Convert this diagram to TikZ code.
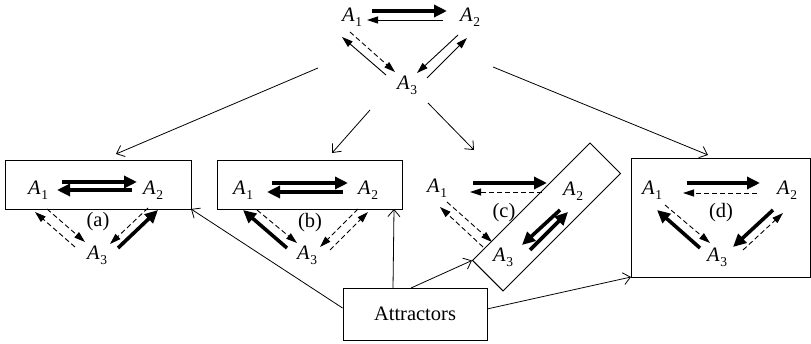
\documentclass[tikz,border=0pt]{standalone}
\usepackage{fontspec}
\setmainfont{Liberation Serif}
\usetikzlibrary{arrows.meta}
\newcommand\Asub[1]{\textit{A}\kern0.5pt\raisebox{-5pt}{\fontsize{13.5}{14}\selectfont #1}}
\begin{document}
\begin{tikzpicture}[x=1pt,y=-1pt,
  every node/.style={font=\fontsize{20.5}{24}\selectfont, inner sep=0pt},
  lbl/.style={anchor=base west},
  thinarr/.style={line width=0.9pt,-{Triangle[length=11pt,width=7pt]}},
  dasharr/.style={thinarr,dash pattern=on 5pt off 3pt},
  thickarr/.style={line width=3.6pt,-{Triangle[length=13pt,width=12pt]}},
  conn/.style={line width=0.8pt,-{Straight Barb[length=7pt,width=12pt]}},
  box/.style={draw,line width=0.9pt}]
\useasboundingbox (0,0) rectangle (811,344);
% top graph
\node[lbl] (t1) at (342,22) {\Asub{1}};
\node[lbl] (t2) at (460,22) {\Asub{2}};
\node[lbl] (t3) at (397,90) {\Asub{3}};
\draw[thickarr] (372,11) -- (447,11);
\draw[thinarr] (443,20) -- (367,20);
\draw[thinarr] (386,75) -- (342,37);
\draw[dasharr] (350,32) -- (395,72);
\draw[thinarr] (458,35) -- (417,73);
\draw[thinarr] (427,78) -- (467,38);
% boxes
\draw[box] (5,160) rectangle (191,209);
\draw[box] (217,160) rectangle (402,209);
\draw[box] (631,158) rectangle (810,277);
\node[box,rotate=45,minimum width=166pt,minimum height=43pt] (cbox) at (546.5,217) {};
\node[box,minimum width=144pt,minimum height=52pt] (att) at (415,314) {Attractors};
% box a
\node[lbl] (a1) at (28,195) {\Asub{1}};
\node[lbl] (a2) at (143,195) {\Asub{2}};
\node[lbl] (a3) at (87,260) {\Asub{3}};
\node (la) at (98,222) {(a)};
\draw[thickarr] (62,182) -- (137,182);
\draw[thickarr] (132,190) -- (57,190);
\draw[dasharr] (75,247) -- (35,212);
\draw[dasharr] (47,209) -- (85,242);
\draw[dasharr] (148,208) -- (110,244);
\draw[thickarr] (118,248) -- (158,210);
% box b
\node[lbl] (b1) at (233,195) {\Asub{1}};
\node[lbl] (b2) at (358,195) {\Asub{2}};
\node[lbl] (b3) at (297,260) {\Asub{3}};
\node (lb) at (310,223) {(b)};
\draw[thickarr] (272,183) -- (348,183);
\draw[thickarr] (343,192) -- (267,192);
\draw[thickarr] (287,248) -- (243,210);
\draw[dasharr] (257,210) -- (297,243);
\draw[dasharr] (358,209) -- (320,247);
\draw[dasharr] (330,250) -- (368,212);
% box c
\node[lbl] (c1) at (427,193) {\Asub{1}};
\node[lbl] (c2) at (563,196) {\Asub{2}};
\node[lbl] (c3) at (493,262) {\Asub{3}};
\node (lc) at (504,213) {(c)};
\draw[thickarr] (473,183) -- (547,183);
\draw[dasharr] (542,192) -- (470,192);
\draw[dasharr] (483,247) -- (440,207);
\draw[dasharr] (447,202) -- (492,242);
\draw[thickarr] (560,210) -- (522,245);
\draw[thickarr] (530,250) -- (568,212);
% box d
\node[lbl] (d1) at (642,195) {\Asub{1}};
\node[lbl] (d2) at (777,195) {\Asub{2}};
\node[lbl] (d3) at (707,262) {\Asub{3}};
\node (ld) at (721,213) {(d)};
\draw[thickarr] (687,183) -- (760,183);
\draw[dasharr] (757,193) -- (683,193);
\draw[thickarr] (700,248) -- (657,210);
\draw[dasharr] (665,205) -- (710,243);
\draw[thickarr] (773,210) -- (733,247);
\draw[dasharr] (743,250) -- (783,213);
% connectors from top
\draw[conn] (318,68) -- (116,154);
\draw[conn] (370,110) -- (332,153);
\draw[conn] (428,103) -- (474,150);
\draw[conn] (493,67) -- (708,155);
% connectors from attractors
\draw[conn] (att.west |- 0,308) -- (191,209);
\draw[conn] (393,288) -- (394,209);
\draw[conn] (411,288) -- (cbox.north west);
\draw[conn] (487,309) -- (631,277);
\end{tikzpicture}
\end{document}
